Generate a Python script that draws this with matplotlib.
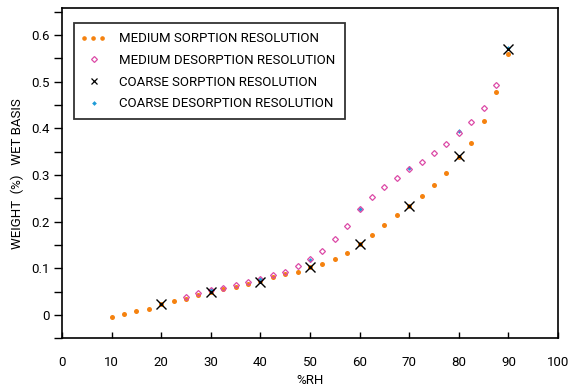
import matplotlib.pyplot as plt
from matplotlib.lines import Line2D
from matplotlib.ticker import MultipleLocator

plt.rcParams['font.family'] = ['Roboto', 'DejaVu Sans']

# medium sorption resolution (every 2.5 %RH)
med_sorp_rh = [10, 12.5, 15, 17.5, 20, 22.5, 25, 27.5, 30, 32.5, 35, 37.5, 40, 42.5, 45,
               47.5, 50, 52.5, 55, 57.5, 60, 62.5, 65, 67.5, 70, 72.5, 75, 77.5, 80,
               82.5, 85, 87.5, 90]
med_sorp_w = [-0.005, 0.002, 0.009, 0.013, 0.023, 0.030, 0.034, 0.042, 0.050, 0.055,
              0.059, 0.066, 0.072, 0.081, 0.087, 0.093, 0.103, 0.110, 0.119, 0.132,
              0.152, 0.171, 0.193, 0.214, 0.233, 0.255, 0.279, 0.305, 0.339, 0.368,
              0.415, 0.478, 0.560]

# medium desorption resolution
med_desorp_rh = [25, 27.5, 30, 32.5, 35, 37.5, 40, 42.5, 45, 47.5, 50, 52.5, 55, 57.5,
                 60, 62.5, 65, 67.5, 70, 72.5, 75, 77.5, 80, 82.5, 85, 87.5]
med_desorp_w = [0.038, 0.046, 0.054, 0.058, 0.064, 0.070, 0.078, 0.086, 0.093, 0.104,
                0.120, 0.136, 0.162, 0.191, 0.228, 0.252, 0.275, 0.293, 0.312, 0.328,
                0.346, 0.366, 0.390, 0.413, 0.444, 0.492]

# coarse resolution (every 10 %RH)
coarse_sorp_rh = [20, 30, 40, 50, 60, 70, 80, 90]
coarse_sorp_w = [0.023, 0.050, 0.071, 0.102, 0.152, 0.234, 0.340, 0.569]
coarse_desorp_rh = [30, 40, 50, 60, 70, 80, 90]
coarse_desorp_w = [0.054, 0.078, 0.117, 0.228, 0.315, 0.395, 0.571]

orange = '#f5820f'
pink = '#dc4aa6'
blue = '#1e9bd7'

fig = plt.figure(figsize=(5.79, 3.90), dpi=100)
ax = fig.add_axes([0.1071, 0.1326, 0.8566, 0.8461])

ax.plot(med_sorp_rh, med_sorp_w, 'o', color=orange, ms=3.6, mew=0, zorder=2)
ax.plot(coarse_desorp_rh, coarse_desorp_w, 'D', color=blue, ms=2.4, mew=0, zorder=3)
ax.plot(med_desorp_rh, med_desorp_w, 'D', mfc='none', mec=pink, ms=3.0, mew=0.9, zorder=4)
ax.plot(coarse_sorp_rh, coarse_sorp_w, 'x', color='black', ms=6.5, mew=1.0, zorder=5)

ax.set_xlim(0, 100)
ax.set_ylim(-0.05, 0.657)
ax.xaxis.set_major_locator(MultipleLocator(10))
ax.yaxis.set_minor_locator(MultipleLocator(0.05))
ax.set_yticks([0, 0.1, 0.2, 0.3, 0.4, 0.5, 0.6])
ax.set_yticklabels(['0', '0.1', '0.2', '0.3', '0.4', '0.5', '0.6'])
ax.tick_params(axis='x', direction='in', length=4, width=1, labelsize=9.5, pad=13)
ax.tick_params(axis='y', which='both', direction='out', length=6, width=1, labelsize=9.5, pad=3)
for s in ax.spines.values():
    s.set_linewidth(1.2)

ax.set_xlabel('%RH', fontsize=9.5, labelpad=3)
ax.set_ylabel('WEIGHT  (%)   WET BASIS', fontsize=9.5, labelpad=5)

handles = [
    Line2D([0], [0], color=orange, lw=3.4, linestyle=(0, (0.01, 1.9)), dash_capstyle='round'),
    Line2D([0], [0], marker='D', linestyle='none', mfc='none', mec=pink, ms=3.0, mew=0.9),
    Line2D([0], [0], marker='x', linestyle='none', color='black', ms=5, mew=0.9),
    Line2D([0], [0], marker='D', linestyle='none', color=blue, ms=2.4, mew=0),
]
labels = ['MEDIUM SORPTION RESOLUTION', 'MEDIUM DESORPTION RESOLUTION',
          'COARSE SORPTION RESOLUTION', 'COARSE DESORPTION RESOLUTION']
leg = ax.legend(handles, labels, loc='upper left', bbox_to_anchor=(0.025, 0.955),
                fontsize=9.5, frameon=True, fancybox=False, edgecolor='black',
                handlelength=1.6, handletextpad=1.1, labelspacing=0.65,
                borderpad=0.7, borderaxespad=0, numpoints=1)
leg.get_frame().set_linewidth(1.3)

fig.savefig('out.png', dpi=100)
